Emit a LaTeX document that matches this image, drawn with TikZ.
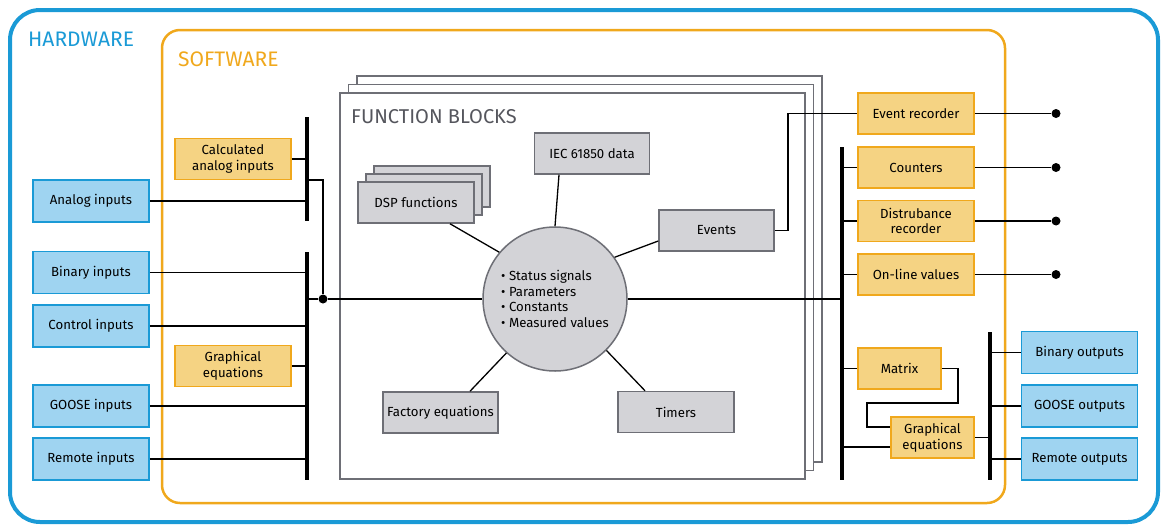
\documentclass[tikz,border=0pt]{standalone}
\usepackage{fontspec}
\setmainfont{Fira Sans}
\usetikzlibrary{calc}

\definecolor{hwblue}{HTML}{1A9AD6}
\definecolor{hwfill}{HTML}{9FD4F1}
\definecolor{swor}{HTML}{F0A81C}
\definecolor{swfill}{HTML}{F5D383}
\definecolor{fbline}{HTML}{6E6F76}
\definecolor{fbfill}{HTML}{D3D3D7}
\definecolor{fbtext}{HTML}{55565D}

\begin{document}
\begin{tikzpicture}[x=1pt,y=-1pt,
	every node/.style={font=\fontsize{13.2}{15.6}\selectfont,inner sep=0pt,align=center},
	inbox/.style={draw=hwblue,fill=hwfill,line width=1.6pt,minimum width=116pt,minimum height=42pt},
	swbox/.style={draw=swor,fill=swfill,line width=1.6pt,minimum width=116pt,minimum height=41pt},
	fbbox/.style={draw=fbline,fill=fbfill,line width=1.5pt,minimum width=115pt,minimum height=41pt},
	wire/.style={line width=1.3pt},
	bus/.style={line width=4.5pt},
	dot/.style={circle,fill=black,minimum size=9pt},
	title/.style={anchor=west,font=\fontsize{21}{24}\selectfont}]
	
	\useasboundingbox (0,0) rectangle (1164,525);
	
	%---------------------------------------------
	
	\draw [hwblue,line width=4pt,rounded corners=30pt] (10,10) rectangle (1158,522);
	\draw [swor,line width=2.5pt,rounded corners=18pt] (162,30) rectangle (1005,503);
	\node [title,text=hwblue] (hw) at (28,39) {HARDWARE};
	\node [title,text=swor] (sw) at (178,59) {SOFTWARE};
	
	\foreach \i in {2,1,0} {
		\draw [fbline,line width=1.5pt,fill=white] ({340+8.5*\i},{93-8.5*\i}) rectangle +(465,386);
	}
	\node [title,text=fbtext,font=\fontsize{20}{24}\selectfont] (fb) at (351,117) {FUNCTION BLOCKS};
	
	%---------------------------------------------
	
	\coordinate (lb1t) at (307,117);
	\coordinate (lb1b) at (307,221);
	\coordinate (lb2t) at (307,252);
	\coordinate (lb2b) at (307,480);
	\coordinate (rbt) at (842,147);
	\coordinate (rbb) at (842,480);
	\coordinate (obt) at (990,332);
	\coordinate (obb) at (990,480);
	
	\foreach \n/\y/\t in {1/201/Analog inputs, 2/272.5/Binary inputs, 3/326/Control inputs, 4/406/GOOSE inputs, 5/459/Remote inputs} {
		\node [inbox] (in\n) at (91,\y) {\t};
	}
	\node [swbox] (calc) at (233,159) {Calculated\\analog inputs};
	\node [swbox] (geq1) at (233,366) {Graphical\\equations};
	\node [dot] (jn) at (323,299) {};
	
	\draw [wire] (in1.east) -- (in1.east -| lb1t);
	\foreach \n in {2,...,5} {
		\draw [wire] (in\n.east) -- (in\n.east -| lb2t);
	}
	\draw [wire] (calc.east) -- (calc.east -| lb1t);
	\draw [wire] (geq1.east) -- (geq1.east -| lb2t);
	\coordinate (lb1k) at (307,180);
	\draw [wire] (lb1k) -| (jn);
	\draw [wire] (jn -| lb2t) -- (jn);
	
	%---------------------------------------------
	
	\node [circle,draw=fbline,fill=fbfill,line width=1.5pt,minimum size=144pt,align=left] (circ) at (555,299)
		{\textbullet\ Status signals\\\textbullet\ Parameters\\\textbullet\ Constants\\\textbullet\ Measured values};
	
	\node [fbbox,minimum width=116pt] (dsp3) at (432,186.5) {};
	\node [fbbox,minimum width=116pt] (dsp2) at (424,194.5) {};
	\node [fbbox,minimum width=116pt] (dsp) at (416,202.5) {DSP functions};
	\node [fbbox] (iec) at (592,153.5) {IEC 61850 data};
	\node [fbbox] (ev) at (716.5,230.5) {Events};
	\node [fbbox] (fac) at (440.5,412.5) {Factory equations};
	\node [fbbox,minimum width=116pt] (tim) at (676,412) {Timers};
	
	\draw [wire] ([xshift=34pt]dsp.south) -- (circ.140);
	\draw [wire] ([xshift=-33pt]iec.south) -- (circ.north);
	\draw [wire] ([yshift=-10.5pt]ev.west) -- (circ.35);
	\draw [wire] ([xshift=29.5pt]fac.north) -- (circ.228);
	\draw [wire] ([xshift=-31pt]tim.north) -- (circ.315);
	
	\draw [wire] (jn) -- (circ.west);
	\draw [wire] (circ.east) -- (circ.east -| rbt);
	
	%---------------------------------------------
	
	\foreach \n/\y/\t in {1/113.5/Event recorder, 2/167.5/Counters, 3/221/Distrubance\\recorder, 4/274.5/On-line values} {
		\node [swbox] (rec\n) at (916,\y) {\t};
		\node [dot] (d\n) at (1056,\y) {};
		\draw [wire] (rec\n.east) -- (d\n);
	}
	\foreach \n in {2,3,4} {
		\draw [wire] (rec\n.west -| rbt) -- (rec\n.west);
	}
	\coordinate (evk) at (788,113.5);
	\draw [wire] (ev.east) -| (evk) -- (rec1.west);
	
	\node [swbox,minimum width=83pt] (mtx) at (899.5,368.5) {Matrix};
	\node [swbox,minimum width=83pt] (geq2) at (932.5,437.5) {Graphical\\equations};
	\coordinate (mk1) at (958,403);
	\coordinate (mk2) at (867,403);
	\draw [wire] (mtx.west -| rbt) -- (mtx.west);
	\draw [wire] (mtx.east) -| (mk1) -- (mk2) |- ([yshift=10.5pt]geq2.west);
	\draw [wire] ([yshift=-9.5pt]geq2.west -| rbt) -- ([yshift=-9.5pt]geq2.west);
	\draw [wire] (geq2.east) -- (geq2.east -| obt);
	
	\foreach \n/\y/\t in {1/352.5/Binary outputs, 2/406/GOOSE outputs, 3/459/Remote outputs} {
		\node [inbox] (out\n) at (1079.5,\y) {\t};
		\draw [wire] (out\n.west -| obt) -- (out\n.west);
	}
	
	%---------------------------------------------
	
	\draw [bus] (lb1t) -- (lb1b);
	\draw [bus] (lb2t) -- (lb2b);
	\draw [bus] (rbt) -- (rbb);
	\draw [bus] (obt) -- (obb);
	
\end{tikzpicture}
\end{document}
